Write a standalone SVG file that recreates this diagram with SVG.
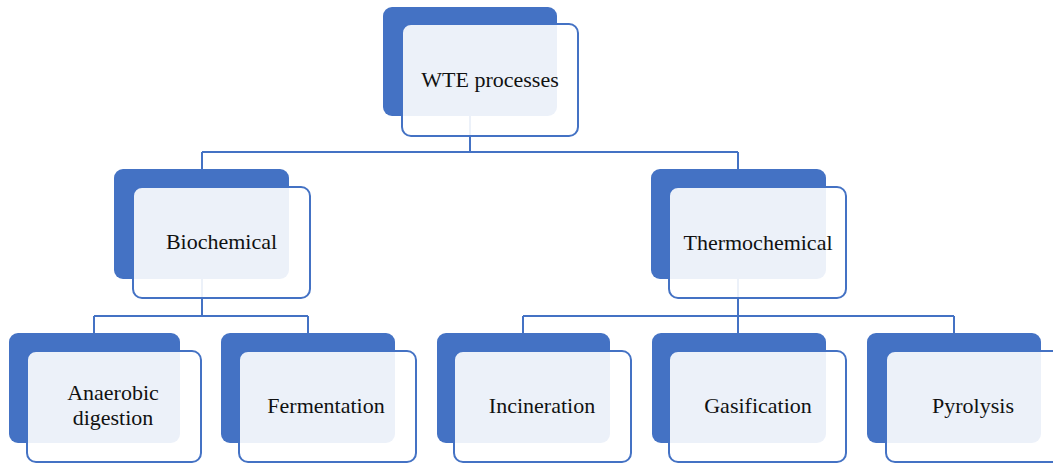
<svg xmlns="http://www.w3.org/2000/svg" width="1053" height="463" viewBox="0 0 1053 463">
  <style>
    .back { fill: #4472C4; }
    .front { fill: #FFFFFF; fill-opacity: 0.9; stroke: #4472C4; stroke-width: 2; }
    .lbl { font-family: "Liberation Serif", "Times New Roman", serif; font-size: 22px; fill: #111111; text-anchor: middle; }
    .conn { fill: none; stroke: #4472C4; stroke-width: 2; }
  </style>
  <rect width="1053" height="463" fill="#FFFFFF"/>
  <g id="connectors">
    <path class="conn" d="M470,116 V152 M202,152 H738 M202,152 V169 M738,152 V169"/>
    <path class="conn" d="M202,279 V316 M94,316 H308 M94,316 V333 M308,316 V333"/>
    <path class="conn" d="M738,279 V316 M523,316 H954 M523,316 V333 M738,316 V333 M954,316 V333"/>
  </g>
  <g id="node-wte">
    <rect class="back" x="383" y="7" width="174" height="109" rx="9"/>
    <rect class="front" x="402" y="24" width="176" height="112" rx="9"/>
    <text class="lbl" x="490" y="87">WTE processes</text>
  </g>
  <g id="node-biochemical">
    <rect class="back" x="114" y="169" width="175" height="110" rx="9"/>
    <rect class="front" x="133" y="187" width="177" height="111" rx="9"/>
    <text class="lbl" x="221.5" y="249">Biochemical</text>
  </g>
  <g id="node-thermochemical">
    <rect class="back" x="651" y="169" width="175" height="110" rx="9"/>
    <rect class="front" x="669" y="187" width="177" height="111" rx="9"/>
    <text class="lbl" x="758" y="250">Thermochemical</text>
  </g>
  <g id="node-anaerobic">
    <rect class="back" x="9" y="333" width="171" height="110" rx="9"/>
    <rect class="front" x="27" y="351" width="174" height="111" rx="9"/>
    <text class="lbl" x="113" y="400">Anaerobic</text>
    <text class="lbl" x="113" y="425">digestion</text>
  </g>
  <g id="node-fermentation">
    <rect class="back" x="221" y="333" width="174" height="110" rx="9"/>
    <rect class="front" x="239" y="351" width="177" height="111" rx="9"/>
    <text class="lbl" x="326" y="413">Fermentation</text>
  </g>
  <g id="node-incineration">
    <rect class="back" x="437" y="333" width="173" height="110" rx="9"/>
    <rect class="front" x="454" y="351" width="177" height="111" rx="9"/>
    <text class="lbl" x="542" y="413">Incineration</text>
  </g>
  <g id="node-gasification">
    <rect class="back" x="652" y="333" width="174" height="110" rx="9"/>
    <rect class="front" x="669" y="351" width="177" height="111" rx="9"/>
    <text class="lbl" x="758" y="413">Gasification</text>
  </g>
  <g id="node-pyrolysis">
    <rect class="back" x="867" y="333" width="174" height="110" rx="9"/>
    <rect class="front" x="886" y="351" width="177" height="111" rx="9"/>
    <text class="lbl" x="973" y="413">Pyrolysis</text>
  </g>
</svg>
